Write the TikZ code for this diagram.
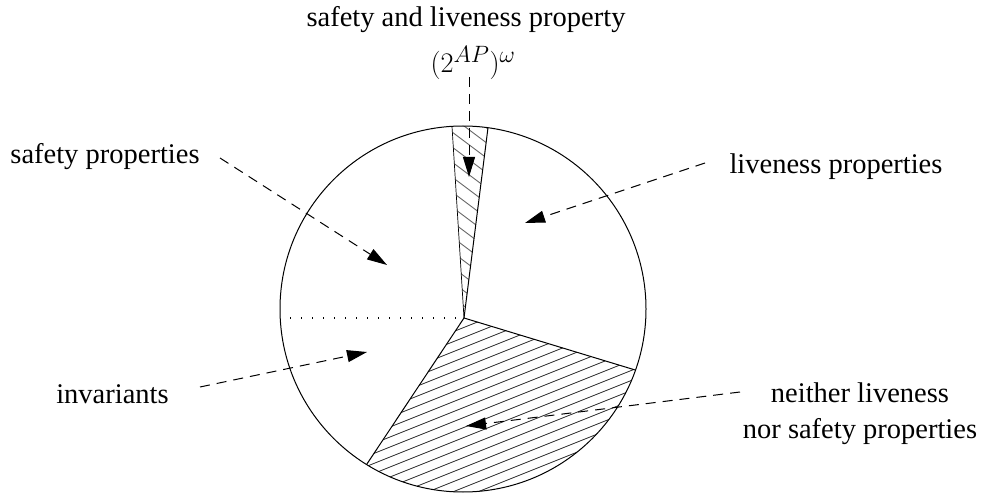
\documentclass[tikz,border=0pt]{standalone}
\usepackage{fontspec}
\setmainfont{Liberation Serif}
\usetikzlibrary{arrows.meta,calc}
\tikzset{
  lbl/.style={font=\fontsize{28.5}{35.3}\selectfont, inner sep=0pt, anchor=base},
  callout/.style={line width=1pt, dash pattern=on 10pt off 7pt, -{Triangle[length=20pt,width=12pt]}},
  edge/.style={line width=1pt},
  hatchA/.style={line width=0.8pt, black!85},
  hatchB/.style={line width=0.9pt, black!60},
}
\begin{document}
\begin{tikzpicture}[x=1pt,y=1pt]
\useasboundingbox (0,0) rectangle (982,493);
\coordinate (C) at (463,184);
\coordinate (A) at (464,175);
\coordinate (TL) at ($(C)+(93.45:183)$);
\coordinate (TR) at ($(C)+(82.15:183)$);
\coordinate (R) at ($(C)+(-19.5:183)$);
\coordinate (LL) at ($(C)+(238.2:183)$);
\coordinate (D) at (290,175);

% hatching of the bottom region
\begin{scope}
  \clip (A) -- (R) arc[start angle=-19.5, end angle=-121.8, radius=183] -- cycle;
  \foreach \b in {-280,-270,...,40} {
    \draw[hatchA] (300,0.4*300+\b) -- (700,0.4*700+\b);
  }
\end{scope}
% hatching of the thin wedge
\begin{scope}
  \clip (A) -- (TR) arc[start angle=82.15, end angle=93.45, radius=183] -- cycle;
  \foreach \b in {505,520,...,745} {
    \draw[hatchB] (430,-0.75*430+\b) -- (510,-0.75*510+\b);
  }
\end{scope}

\draw[edge] (C) circle[radius=183];
\draw[line width=0.7pt] (TL) -- (A);
\draw[edge] (TR) -- (A);
\draw[edge] (R) -- (A) -- (LL);
\draw[line width=1pt, dash pattern=on 1pt off 10pt] (D) -- (A);

% labels
\node[lbl] (top) at (466,466.3) {safety and liveness property};
\node[lbl, anchor=base, scale=1.14, transform shape] (omega) at (473,420) {$(2^{AP})^\omega$};
\node[lbl] (safe) at (105,329.7) {safety properties};
\node[lbl] (inv) at (112.5,90) {invariants};
\node[lbl] (live) at (836,319) {liveness properties};
\node[lbl, align=center] (neither) at (860,55) {neither liveness\\nor safety properties};

% arrow ends
\coordinate (s0) at (469,416);
\coordinate (s1) at (469,316);
\coordinate (a0) at (220,335);
\coordinate (a1) at (387,228);
\coordinate (b0) at (200,106);
\coordinate (b1) at (367,141);
\coordinate (c0) at (705,330);
\coordinate (c1) at (525,270);
\coordinate (d0) at (740,101);
\coordinate (d1) at (466,67);

\draw[callout] (s0) -- (s1);
\draw[callout] (a0) -- (a1);
\draw[callout] (b0) -- (b1);
\draw[callout] (c0) -- (c1);
\draw[callout] (d0) -- (d1);
\end{tikzpicture}
\end{document}
